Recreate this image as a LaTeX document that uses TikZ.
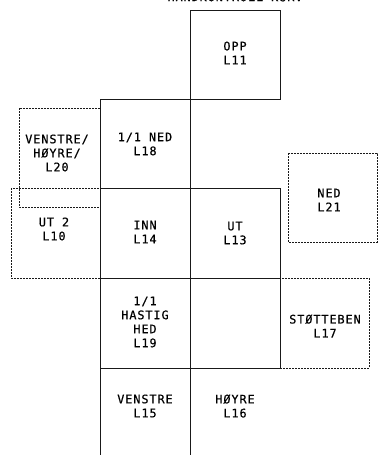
\documentclass[tikz,border=0pt]{standalone}
\usepackage{fontspec}
\newfontfamily\plotfont[LetterSpace=8,FakeBold=0.6]{DejaVu Sans Mono}
\begin{document}
\begin{tikzpicture}[x=1pt,y=-1pt,
  solidline/.style={draw=black!90, line width=0.85pt},
  dotline/.style={draw=black!90, line width=0.85pt, dash pattern=on 1.6pt off 1.4pt},
  lbl/.style={font=\plotfont\fontsize{11.8}{14}\selectfont, align=center, inner sep=0pt, text=black}]
\useasboundingbox (0,0) rectangle (378,455);
% top (cut) title
\node[lbl, anchor=base] (title) at (235,1.2) {HÅNDKONTROLL KURV};
% dotted boxes
\draw[dotline] (19,108) rectangle (100,207);
\draw[dotline] (11,188) rectangle (100,278);
\draw[dotline] (288,153) rectangle (377,242);
\draw[dotline] (280,278) rectangle (369,368);
% solid grid
\draw[solidline] (190,10) rectangle (280,99);
\draw[solidline] (100,99) rectangle (190,188);
\draw[solidline] (100,188) rectangle (190,278);
\draw[solidline] (190,188) rectangle (280,278);
\draw[solidline] (100,278) rectangle (190,368);
\draw[solidline] (190,278) rectangle (280,368);
\draw[solidline] (100,368) -- (100,456);
\draw[solidline] (190,368) -- (190,456);
% labels
\node[lbl] (l11) at (235,53) {OPP\\L11};
\node[lbl] (l18) at (145,144) {1/1 NED\\L18};
\node[lbl] (l20) at (57,153) {VENSTRE/\\HØYRE/\\L20};
\node[lbl] (l10) at (54,229) {UT 2\\L10};
\node[lbl] (l14) at (145,232) {INN\\L14};
\node[lbl] (l13) at (235,233) {UT\\L13};
\node[lbl] (l21) at (329,200) {NED\\L21};
\node[lbl] (l17) at (325,326) {STØTTEBEN\\L17};
\node[lbl] (l19) at (145,322) {1/1\\HASTIG\\HED\\L19};
\node[lbl] (l15) at (145,406) {VENSTRE\\L15};
\node[lbl] (l16) at (235,406) {HØYRE\\L16};
\end{tikzpicture}
\end{document}
